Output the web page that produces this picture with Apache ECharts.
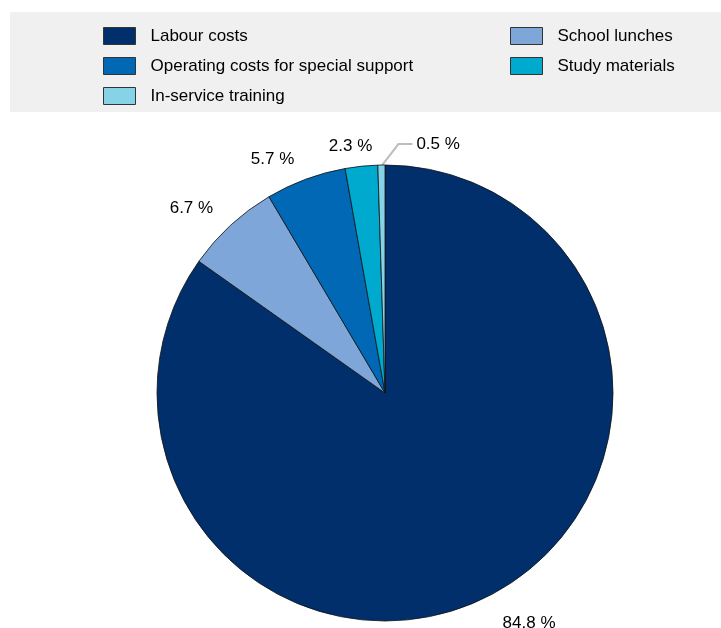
<!DOCTYPE html>
<html><head><meta charset="utf-8">
<script src="https://cdn.jsdelivr.net/npm/echarts@6/dist/echarts.min.js"></script>
<style>html,body{margin:0;padding:0;background:#fff}#c{width:721px;height:628px}</style>
</head><body><div id="c"></div>
<script>
const categories = ['Labour costs','School lunches','Operating costs for special support','Study materials','In-service training'];
const values = [84.8, 6.7, 5.7, 2.3, 0.5];
const colors = ['#002F6C','#7FA6D8','#0068B4','#00A9CE','#86D3E8'];
const legendLeft = ['Labour costs','Operating costs for special support','In-service training'];
const legendRight = ['School lunches','Study materials'];

const FONT = '"Liberation Sans Narrow","Arial Narrow","Liberation Sans",Arial,sans-serif';
const chart = echarts.init(document.getElementById('c'), null, {renderer:'canvas'});
const legendCommon = {
  orient:'vertical', itemWidth:32, itemHeight:17, itemGap:12, icon:'rect',
  textStyle:{fontFamily:FONT, fontSize:17, color:'#000', padding:[0,0,0,10]},
  itemStyle:{borderColor:'#333', borderWidth:1}, selectedMode:false
};
// small label nudges (label placement only)
const labelNudge = {1:[3,5], 2:[-1,8], 3:[14,10], 0:[-1,1]};
chart.setOption({
  animation:false,
  graphic:[{type:'rect', left:10, top:12, shape:{width:711, height:100}, style:{fill:'#F0F0F0'}, z:-10}],
  legend:[
    Object.assign({data:legendLeft, left:98, top:22}, legendCommon),
    Object.assign({data:legendRight, left:505, top:22}, legendCommon)
  ],
  series:[{
    type:'pie', center:[385,393], radius:228, startAngle:90, clockwise:true,
    avoidLabelOverlap:false,
    itemStyle:{borderColor:'#111', borderWidth:0.8},
    label:{show:true, position:'outside', formatter:p=>p.value.toFixed(1)+' %', fontFamily:FONT, fontSize:17, color:'#000', distanceToLabelLine:0},
    labelLine:{show:false, length:30, length2:0},
    labelLayout:function(p){
      if (p.dataIndex === 4) {
        const s = p.labelLinePoints[0];
        return {x:s[0]+35, y:s[1]-21, align:'left', verticalAlign:'middle',
          labelLinePoints:[[s[0],s[1]+1],[s[0]+17,s[1]-21],[s[0]+31,s[1]-21]]};
      }
      const n = labelNudge[p.dataIndex];
      return n ? {dx:n[0], dy:n[1]} : {};
    },
    data: categories.map((n,i)=>({name:n, value:values[i], itemStyle:{color:colors[i]},
      labelLine: i===4 ? {show:true, lineStyle:{color:'#BDBDBD', width:2}} : undefined}))
  }]
});
</script></body></html>
